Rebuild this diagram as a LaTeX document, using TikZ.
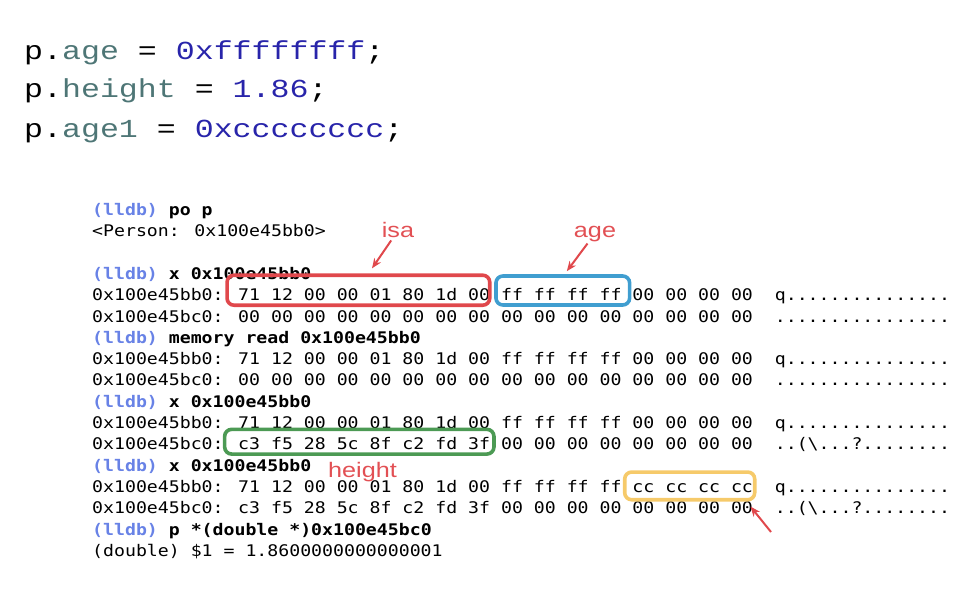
\documentclass[tikz,border=0pt]{standalone}
\usepackage{fontspec}
\usetikzlibrary{arrows.meta}
\newfontfamily\termfont[FakeStretch=1.137]{DejaVu Sans Mono}
\newfontfamily\codefont[FakeStretch=1.215]{Liberation Mono}
\newfontfamily\tagfont[FakeStretch=1.2]{Liberation Sans}
\definecolor{lldbblue}{RGB}{104,130,230}
\definecolor{propgrey}{RGB}{78,118,118}
\definecolor{numblue}{RGB}{40,36,170}
\definecolor{isared}{RGB}{224,72,76}
\definecolor{ageblue}{RGB}{64,158,208}
\definecolor{hgreen}{RGB}{76,154,84}
\definecolor{ccyellow}{RGB}{246,202,106}
\definecolor{tagred}{RGB}{226,80,84}
\newcommand{\lldb}[1]{{\color{lldbblue}\bfseries (lldb)} {\bfseries #1}}

\begin{document}
\begin{tikzpicture}[x=1pt, y=-1pt]
	\tikzstyle{every node}=[inner sep=0pt, anchor=base west]
	\tikzstyle{src}=[font=\codefont\fontsize{26}{30}\selectfont]
	\tikzstyle{term}=[font=\termfont\fontsize{16}{20}\selectfont, text=black]
	\tikzstyle{membox}=[draw, line width=3.6pt, rounded corners=7pt, anchor=center]
	\tikzstyle{tag}=[font=\tagfont\fontsize{21}{24}\selectfont, text=tagred, anchor=base, inner sep=2pt]
	\tikzstyle{pointer}=[-{Stealth[length=10pt,width=8pt]}, line width=2pt, draw=isared]
	\useasboundingbox (0,0) rectangle (980,604);
	% source lines
	\node[src] (setage) at (24,60) {p.\textcolor{propgrey}{age} = \textcolor{numblue}{0xffffffff};};
	\node[src] (setheight) at (24,97.5) {p.\textcolor{propgrey}{height} = \textcolor{numblue}{1.86};};
	\node[src] (setageone) at (24,138) {p.\textcolor{propgrey}{age1} = \textcolor{numblue}{0xcccccccc};};
	% lldb session
	\node[term] (po) at (92,215.5) {\lldb{po p}};
	\node[term] (person) at (92,236.8) {<Person: 0x100e45bb0>};
	\node[term] (xa) at (92,279.4) {\lldb{x 0x100e45bb0}};
	\node[term] (xabb) at (92,300.7) {0x100e45bb0: 71 12 00 00 01 80 1d 00 ff ff ff ff 00 00 00 00~~q...............};
	\node[term] (xabc) at (92,322.0) {0x100e45bc0: 00 00 00 00 00 00 00 00 00 00 00 00 00 00 00 00~~................};
	\node[term] (mem) at (92,343.3) {\lldb{memory read 0x100e45bb0}};
	\node[term] (membb) at (92,364.6) {0x100e45bb0: 71 12 00 00 01 80 1d 00 ff ff ff ff 00 00 00 00~~q...............};
	\node[term] (membc) at (92,385.9) {0x100e45bc0: 00 00 00 00 00 00 00 00 00 00 00 00 00 00 00 00~~................};
	\node[term] (xb) at (92,407.2) {\lldb{x 0x100e45bb0}};
	\node[term] (xbbb) at (92,428.5) {0x100e45bb0: 71 12 00 00 01 80 1d 00 ff ff ff ff 00 00 00 00~~q...............};
	\node[term] (xbbc) at (92,449.8) {0x100e45bc0: c3 f5 28 5c 8f c2 fd 3f 00 00 00 00 00 00 00 00~~..(\textbackslash...?........};
	\node[term] (xc) at (92,471.1) {\lldb{x 0x100e45bb0}};
	\node[term] (xcbb) at (92,492.4) {0x100e45bb0: 71 12 00 00 01 80 1d 00 ff ff ff ff cc cc cc cc~~q...............};
	\node[term] (xcbc) at (92,513.7) {0x100e45bc0: c3 f5 28 5c 8f c2 fd 3f 00 00 00 00 00 00 00 00~~..(\textbackslash...?........};
	\node[term] (pd) at (92,535.0) {\lldb{p *(double *)0x100e45bc0}};
	\node[term] (result) at (92,556.3) {(double) \$1 = 1.8600000000000001};
	% marked bytes
	\node[membox, draw=isared, minimum width=262.7pt, minimum height=30pt] (isabox) at (358.4,290.2) {};
	\node[membox, draw=ageblue, minimum width=133.7pt, minimum height=29pt] (agebox) at (562.8,290.5) {};
	\node[membox, draw=hgreen, minimum width=269.3pt, minimum height=24.7pt] (heightbox) at (359.3,441.7) {};
	\node[membox, draw=ccyellow, minimum width=130pt, minimum height=27.7pt] (ccbox) at (689.7,485.9) {};
	% labels
	\node[tag] (isa) at (398,238) {isa};
	\node[tag] (age) at (595,237) {age};
	\node[tag] (height) at (362.5,477) {height};
	\coordinate (cctail) at (771,532);
	\draw [pointer] (isa) -- ([xshift=13.6pt, yshift=5pt]isabox.north);
	\draw [pointer] (age) -- ([xshift=4pt, yshift=3pt]agebox.north);
	\draw [pointer] (cctail) -- ([xshift=-6pt, yshift=-5pt]ccbox.south east);
\end{tikzpicture}
\end{document}
